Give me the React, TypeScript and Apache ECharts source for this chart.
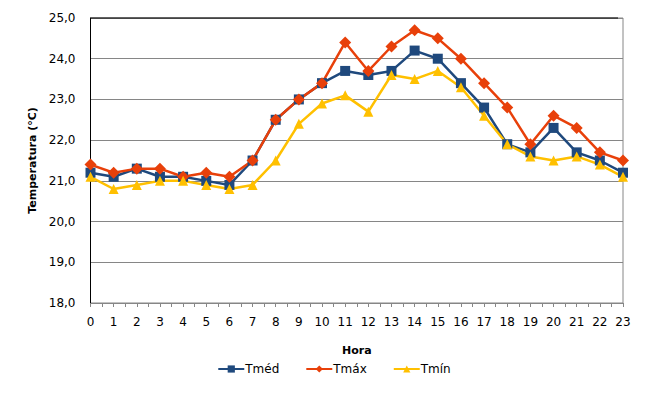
import React, { useEffect, useRef } from "react";
import * as echarts from "echarts";

const hours = [0, 1, 2, 3, 4, 5, 6, 7, 8, 9, 10, 11, 12, 13, 14, 15, 16, 17, 18, 19, 20, 21, 22, 23];
const tmed = [21.2, 21.1, 21.3, 21.1, 21.1, 21.0, 20.9, 21.5, 22.5, 23.0, 23.4, 23.7, 23.6, 23.7, 24.2, 24.0, 23.4, 22.8, 21.9, 21.7, 22.3, 21.7, 21.5, 21.2];
const tmax = [21.4, 21.2, 21.3, 21.3, 21.1, 21.2, 21.1, 21.5, 22.5, 23.0, 23.4, 24.4, 23.7, 24.3, 24.7, 24.5, 24.0, 23.4, 22.8, 21.9, 22.6, 22.3, 21.7, 21.5];
const tmin = [21.1, 20.8, 20.9, 21.0, 21.0, 20.9, 20.8, 20.9, 21.5, 22.4, 22.9, 23.1, 22.7, 23.6, 23.5, 23.7, 23.3, 22.6, 21.9, 21.6, 21.5, 21.6, 21.4, 21.1];
const seriesNames = ["Tméd", "Tmáx", "Tmín"];

const FONT = "DejaVu Sans";

export default function App() {
  const ref = useRef<HTMLDivElement>(null);
  useEffect(() => {
    if (!ref.current) return;
    const chart = echarts.init(ref.current, null, { renderer: "svg" });
    const pair = (arr: number[]) => hours.map((h, i) => [h, arr[i]]);
    chart.setOption({
      animation: false,
      textStyle: { fontFamily: FONT, color: "#000" },
      grid: {
        left: 90.5,
        right: 45,
        top: 18,
        bottom: 96,
        show: true,
        borderColor: "#868686",
        borderWidth: 1,
      },
      legend: {
        bottom: 19,
        left: "center",
        itemWidth: 26,
        itemHeight: 9,
        itemGap: 26,
        data: seriesNames,
        textStyle: { fontFamily: FONT, fontSize: 12, color: "#000", padding: [0, 0, 0, -4] },
      },
      xAxis: {
        type: "value",
        min: 0,
        max: 23,
        interval: 1,
        name: "Hora",
        nameLocation: "middle",
        nameGap: 42,
        nameTextStyle: { fontFamily: FONT, fontSize: 11, fontWeight: "bold", color: "#000" },
        axisLine: { show: true, lineStyle: { color: "#868686", width: 1 } },
        axisTick: { show: true, length: 4, lineStyle: { color: "#868686" } },
        minorTick: { show: true, splitNumber: 2, length: 4, lineStyle: { color: "#868686" } },
        splitLine: { show: false },
        axisLabel: { fontFamily: FONT, fontSize: 12, color: "#000", margin: 13 },
      },
      yAxis: {
        type: "value",
        min: 18,
        max: 25,
        interval: 1,
        name: "Temperatura (°C)",
        nameLocation: "middle",
        nameGap: 46,
        nameTextStyle: { fontFamily: FONT, fontSize: 11, fontWeight: "bold", color: "#000" },
        axisLine: { show: true, lineStyle: { color: "#000", width: 1 } },
        axisTick: { show: false },
        splitLine: { show: true, lineStyle: { color: "#868686", width: 1 } },
        axisLabel: {
          fontFamily: FONT,
          fontSize: 12,
          color: "#000",
          margin: 15,
          formatter: (v: number) => v.toFixed(1).replace(".", ","),
        },
      },
      graphic: [
        {
          type: "line",
          shape: { x1: 90.5, y1: 18, x2: 618, y2: 18 },
          style: { stroke: "#000", lineWidth: 1 },
          z: 100,
        },
      ],
      series: [
        {
          name: "Tméd",
          type: "line",
          data: pair(tmed),
          symbol: "rect",
          symbolSize: 10,
          lineStyle: { color: "#1F497D", width: 2.5 },
          itemStyle: { color: "#1F497D" },
        },
        {
          name: "Tmáx",
          type: "line",
          data: pair(tmax),
          symbol: "diamond",
          symbolSize: 12,
          lineStyle: { color: "#E8400A", width: 2.5 },
          itemStyle: { color: "#E8400A" },
        },
        {
          name: "Tmín",
          type: "line",
          data: pair(tmin),
          symbol: "triangle",
          symbolSize: 10,
          lineStyle: { color: "#FFC000", width: 2.5 },
          itemStyle: { color: "#FFC000" },
        },
      ],
    });
    return () => chart.dispose();
  }, []);
  return <div ref={ref} style={{ width: 668, height: 399, position: "absolute", left: 0, top: 0 }} />;
}
